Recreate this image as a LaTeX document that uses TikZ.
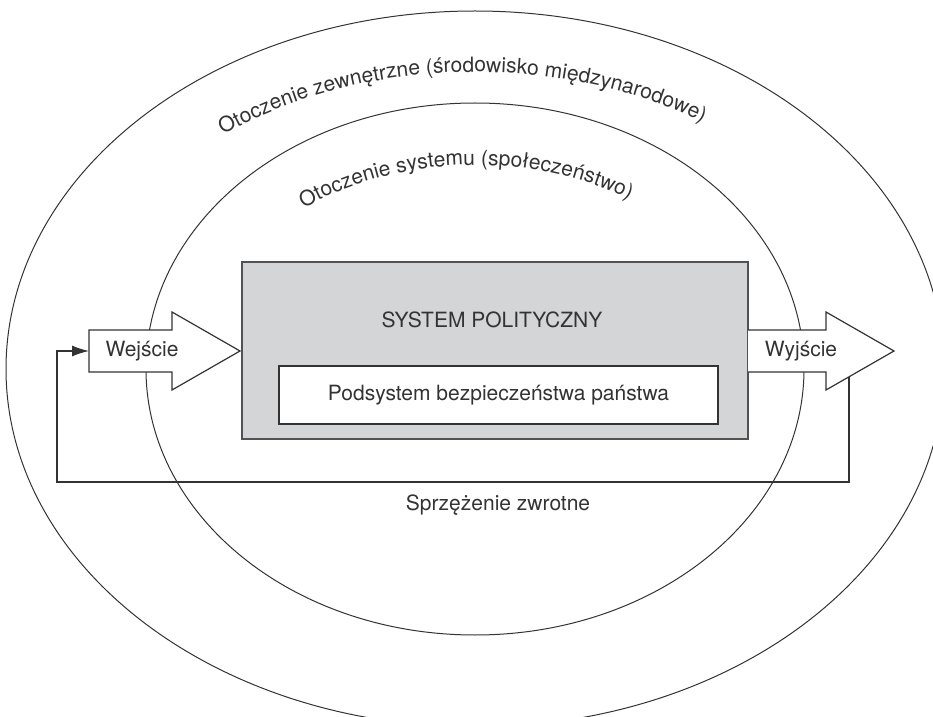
\documentclass[tikz,border=0pt]{standalone}
\usepackage{fontspec}
\setmainfont{TeX Gyre Heros}
\usetikzlibrary{arrows.meta,calc,positioning,decorations.text}
\definecolor{ink}{HTML}{333333}
\definecolor{boxgray}{HTML}{D4D5D7}
\newcommand\arcfont{\fontsize{10.5}{12}\selectfont\color{ink}}
\begin{document}
\begin{tikzpicture}[x=0.5pt,y=-0.5pt,
  every node/.style={font=\fontsize{10.5}{12}\selectfont,text=ink},
  ring/.style={draw=ink,line width=0.5pt},
  sysbox/.style={draw=ink!85,fill=boxgray,line width=0.7pt,minimum width=253pt,minimum height=88.5pt},
  subbox/.style={draw=ink,fill=white,line width=0.6pt,minimum width=219.5pt,minimum height=29pt},
  flow/.style={draw=ink,fill=white,line width=0.6pt},
  link/.style={draw=ink,line width=0.6pt,-{Latex[length=8.5pt,width=5.5pt]}},
  curved/.style={decorate,decoration={text along path,text align=left,text={#1}}}]
\useasboundingbox (0,0) rectangle (933,717);
% environments
\draw[ring] (475,369) ellipse[x radius=469,y radius=358];
\draw[ring] (475,369) ellipse[x radius=329,y radius=266];
\path[curved={|\arcfont|Otoczenie zewnętrzne (środowisko międzynarodowe)}]
    (475,369) ++(-128:409 and 297) arc[start angle=-128,end angle=-40,x radius=409,y radius=297];
\path[curved={|\arcfont|Otoczenie systemu (społeczeństwo)}]
    (475,369) ++(-128:278 and 204) arc[start angle=-128,end angle=-40,x radius=278,y radius=204];
% system
\node[sysbox] (sys) at (495,350.5) {};
\node (systitle) at (492,320) {SYSTEM POLITYCZNY};
\node[subbox] (sub) at (498.5,395) {Podsystem bezpieczeństwa państwa};
% input and output
\draw[flow] (89,330) -- (172,330) -- (172,312) -- (240,351) -- (172,390) -- (172,372) -- (89,372) -- cycle;
\node (in) at (142,351) {Wejście};
\draw[flow] (748,330) -- (826,330) -- (826,312) -- (894,351) -- (826,390) -- (826,372) -- (748,372);
\node (out) at (801,351) {Wyjście};
% feedback
\coordinate (fbstart) at (849,376.8);
\coordinate (inend) at (89,351);
\draw[link] (fbstart) |- (57,482) |- (inend);
\node (fb) at (498,505) {Sprzężenie zwrotne};
\end{tikzpicture}
\end{document}
